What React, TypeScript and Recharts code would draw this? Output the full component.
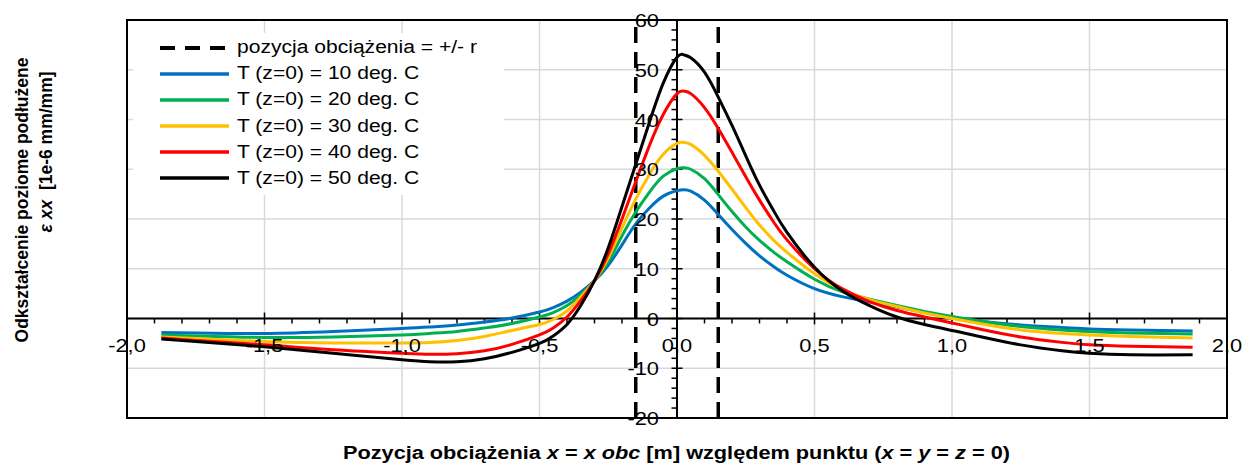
import {
	LineChart,
	Line,
	XAxis,
	YAxis,
	CartesianGrid,
	ReferenceLine,
	ReferenceArea,
} from "recharts";

// load position x [m]
const positions = [
	-1.875, -1.75, -1.5, -1.25, -1.0, -0.9, -0.8, -0.7, -0.6, -0.5, -0.45, -0.4,
	-0.35, -0.3, -0.25, -0.2, -0.15, -0.1, -0.05, 0, 0.025, 0.05, 0.1, 0.15, 0.2,
	0.25, 0.3, 0.35, 0.4, 0.5, 0.6, 0.7, 0.8, 0.9, 1.0, 1.1, 1.25, 1.4, 1.5, 1.65,
	1.875,
];

// strain [1e-6 mm/mm] for each surface temperature
const t10 = [
	-2.8, -2.9, -3.0, -2.6, -2.0, -1.7, -1.3, -0.7, 0.1, 1.3, 2.2, 3.5, 5.3, 7.6,
	10.7, 14.8, 19.0, 22.2, 24.6, 25.7, 25.9, 25.6, 23.8, 20.9, 17.9, 15.1, 12.6,
	10.5, 8.7, 6.0, 4.4, 3.3, 2.3, 1.2, 0.2, -0.5, -1.3, -1.8, -2.1, -2.3, -2.5,
];
const t20 = [
	-3.3, -3.5, -3.8, -3.7, -3.3, -3.0, -2.6, -1.9, -1.0, 0.3, 1.2, 2.6, 4.8,
	7.6, 11.4, 16.6, 21.4, 25.4, 28.6, 30.1, 30.3, 30.0, 28.1, 24.9, 21.5, 18.4,
	15.7, 13.4, 11.4, 7.9, 5.4, 3.9, 2.6, 1.4, 0.4, -0.5, -1.6, -2.3, -2.6, -2.9,
	-3.1,
];
const t30 = [
	-3.7, -4.0, -4.6, -4.9, -4.9, -4.8, -4.4, -3.6, -2.4, -1.2, -0.2, 1.5, 4.3,
	7.6, 12.2, 18.2, 24.0, 29.0, 33.0, 35.2, 35.4, 35.0, 32.8, 29.6, 26.0, 22.3,
	18.8, 15.8, 13.3, 9.0, 5.8, 3.8, 2.4, 1.1, 0.0, -1.0, -2.3, -3.0, -3.3, -3.6,
	-3.9,
];
const t40 = [
	-3.9, -4.4, -5.3, -6.3, -7.0, -7.2, -7.1, -6.5, -5.2, -3.3, -1.9, 0.3, 3.6,
	7.6, 13.0, 20.0, 27.5, 34.8, 41.0, 45.2, 45.7, 45.2, 42.4, 38.2, 33.4, 28.5,
	23.8, 19.5, 15.8, 10.0, 6.0, 3.4, 1.6, 0.3, -0.9, -2.1, -3.7, -4.8, -5.3,
	-5.6, -5.8,
];
const t50 = [
	-4.1, -4.6, -5.7, -7.0, -8.3, -8.7, -8.7, -8.1, -6.8, -5.0, -3.5, -1.2, 2.6,
	7.6, 14.2, 22.5, 31.0, 39.5, 47.3, 52.5, 53.0, 52.4, 49.5, 44.5, 38.8, 32.7,
	26.8, 21.8, 17.3, 10.3, 5.6, 2.6, 0.3, -1.2, -2.4, -3.6, -5.3, -6.5, -7.0,
	-7.3, -7.3,
];

const loadEdges = [-0.15, 0.15]; // +/- r

const xTicks = [-2, -1.5, -1, -0.5, 0, 0.5, 1, 1.5, 2];
const yTicks = [-20, -10, 0, 10, 20, 30, 40, 50, 60];

const series = [
	{ key: "t10", name: "T (z=0) = 10 deg. C", color: "#0070C0", values: t10 },
	{ key: "t20", name: "T (z=0) = 20 deg. C", color: "#00B050", values: t20 },
	{ key: "t30", name: "T (z=0) = 30 deg. C", color: "#FFC000", values: t30 },
	{ key: "t40", name: "T (z=0) = 40 deg. C", color: "#FF0000", values: t40 },
	{ key: "t50", name: "T (z=0) = 50 deg. C", color: "#000000", values: t50 },
];

const data = positions.map((x, i) => {
	const row: Record<string, number> = { x };
	series.forEach((s) => (row[s.key] = s.values[i]));
	return row;
});

// minor tick marks (every 0.1 m and every 2 units)
const xMinor: number[] = [];
for (let i = -20; i <= 20; i++) if (i % 5 !== 0) xMinor.push(i / 10);
const yMinor: number[] = [];
for (let v = -20; v <= 60; v += 2) if (v % 10 !== 0) yMinor.push(v);

const W = 1245;
const H = 470;
const AX_H = 30; // room kept by the x axis
const AX_W = 30; // room kept by the y axis
const M = { top: 20, right: 18, bottom: 52 - AX_H, left: 127 - AX_W };
const PLOT_W = W - 127 - M.right;
const PLOT_H = H - M.top - 52;
const ZERO_X = 127 + (PLOT_W * (0 - -2)) / 4;
const ZERO_Y = M.top + (PLOT_H * 60) / 80;

const FONT = '"Liberation Sans", Arial, sans-serif';

const fmtX = (v: number) => v.toFixed(1).replace(".", ",");

const XTick = (props: any) => {
	const { x, payload } = props;
	return (
		<text
			transform={`translate(${x},${ZERO_Y + 33}) scale(1.15,1)`}
			textAnchor="middle"
			fontSize={19}
			fontFamily={FONT}
			fill="#000"
		>
			{fmtX(payload.value)}
		</text>
	);
};

const YTick = (props: any) => {
	const { y, payload } = props;
	return (
		<text
			transform={`translate(${ZERO_X - 18},${y + 7}) scale(1.15,1)`}
			textAnchor="end"
			fontSize={19}
			fontFamily={FONT}
			fill="#000"
		>
			{payload.value}
		</text>
	);
};

export default function App() {
	return (
		<div style={{ position: "relative", width: W, height: H, fontFamily: FONT, background: "#fff" }}>
			<style>{"body{margin:0}"}</style>
			<LineChart width={W} height={H} data={data} margin={M}>
				<CartesianGrid stroke="#d9d9d9" strokeWidth={1.5} />
				<XAxis
					dataKey="x"
					type="number"
					domain={[-2, 2]}
					ticks={xTicks}
					height={AX_H}
					axisLine={false}
					tickLine={false}
					tick={(p: any) => <XTick {...p} />}
					interval={0}
				/>
				<YAxis
					type="number"
					domain={[-20, 60]}
					ticks={yTicks}
					width={AX_W}
					axisLine={false}
					tickLine={false}
					tick={(p: any) => <YTick {...p} />}
					interval={0}
				/>
				<ReferenceArea x1={-2} x2={2} y1={-20} y2={60} fill="none" stroke="#000" strokeWidth={2} />
				<ReferenceLine y={0} stroke="#000" strokeWidth={2} />
				<ReferenceLine x={0} stroke="#000" strokeWidth={2} />
				{xMinor.map((v) => (
					<ReferenceLine key={"xm" + v} segment={[{ x: v, y: 0 }, { x: v, y: -1 }]} stroke="#000" strokeWidth={1.5} />
				))}
				{xTicks.map((v) => (
					<ReferenceLine key={"xM" + v} segment={[{ x: v, y: 1.2 }, { x: v, y: -1.2 }]} stroke="#000" strokeWidth={1.5} />
				))}
				{yMinor.map((v) => (
					<ReferenceLine key={"ym" + v} segment={[{ x: -0.02, y: v }, { x: 0, y: v }]} stroke="#000" strokeWidth={1.5} />
				))}
				{yTicks.map((v) => (
					<ReferenceLine key={"yM" + v} segment={[{ x: -0.02, y: v }, { x: 0.02, y: v }]} stroke="#000" strokeWidth={1.5} />
				))}
				{loadEdges.map((v) => (
					<ReferenceLine key={"le" + v} x={v} stroke="#000" strokeWidth={3.5} strokeDasharray="16 9" />
				))}
				{series.map((s) => (
					<Line
						key={s.key}
						type="natural"
						dataKey={s.key}
						name={s.name}
						stroke={s.color}
						strokeWidth={3}
						dot={false}
						isAnimationActive={false}
					/>
				))}
			</LineChart>

			{/* legend */}
			<div style={{ position: "absolute", left: 133, top: 33, width: 371, height: 162, background: "#fff" }}>
				{[{ name: "pozycja obciążenia = +/- r", color: "#000", dashed: true }, ...series].map((s: any, i) => (
					<div key={i} style={{ position: "absolute", left: 27, top: 14.7 + i * 26.1 - 13, height: 26, display: "flex", alignItems: "center" }}>
						<svg width={69} height={8}>
							<line x1={0} x2={69} y1={4} y2={4} stroke={s.color} strokeWidth={s.dashed ? 4 : 3.5} strokeDasharray={s.dashed ? "15 10" : undefined} />
						</svg>
						<span style={{ marginLeft: 8, fontSize: 18, whiteSpace: "nowrap", display: "inline-block", transform: "scaleX(1.17)", transformOrigin: "left center" }}>
							{s.name}
						</span>
					</div>
				))}
			</div>

			{/* y axis title */}
			<div style={{ position: "absolute", left: 22, top: 200, transform: "translate(-50%,-50%) rotate(-90deg)", fontSize: 17.5, fontWeight: "bold", whiteSpace: "nowrap" }}>
				Odkształcenie poziome podłużene
			</div>
			<div style={{ position: "absolute", left: 46, top: 152, transform: "translate(-50%,-50%) rotate(-90deg)", fontSize: 17.5, fontWeight: "bold", whiteSpace: "pre" }}>
				<i>ε xx</i>{"  [1e-6 mm/mm]"}
			</div>

			{/* x axis title */}
			<div style={{ position: "absolute", left: 343, top: 442, fontSize: 17.5, fontWeight: "bold", whiteSpace: "nowrap", transform: "scaleX(1.24)", transformOrigin: "left center", lineHeight: "22px" }}>
				Pozycja obciążenia <i>x</i> = <i>x obc</i> [m] względem punktu (<i>x</i> = <i>y</i> = <i>z</i> = 0)
			</div>
		</div>
	);
}
